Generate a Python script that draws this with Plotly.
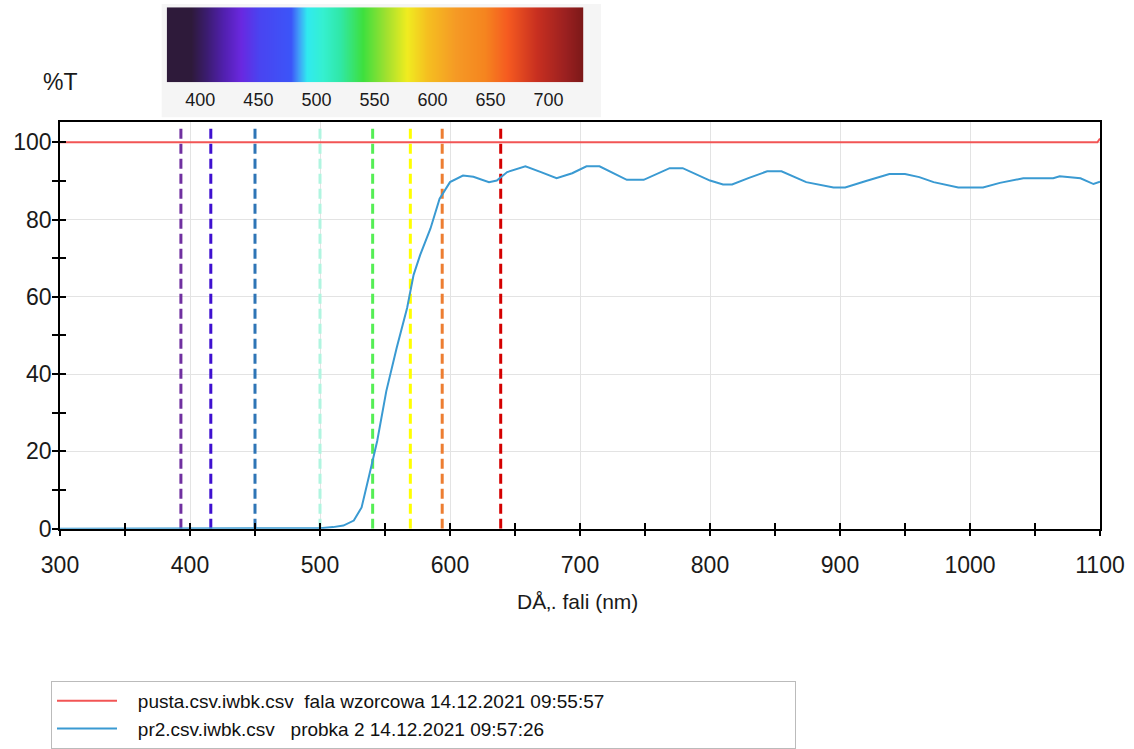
import plotly.graph_objects as go

# ---------------- data ----------------
wl_sample = [300, 400, 500, 510, 518, 526, 532, 538, 544, 551, 559, 567, 572, 577, 585, 592,
             600, 610, 618, 630, 636, 644, 658, 670, 682, 694, 705, 715, 726, 736, 749, 759,
             769, 779, 792, 800, 810, 817, 830, 844, 855, 865, 874, 895, 904, 920, 938, 950,
             961, 972, 991, 1010, 1023, 1041, 1064, 1069, 1085, 1095, 1100]
t_sample = [0, 0, 0.1, 0.4, 0.8, 2.1, 5.5, 14, 22.7, 35.6, 46.8, 57.1, 65.7, 70.8, 77.7, 85.4,
            89.7, 91.4, 91.1, 89.7, 90.1, 92.3, 93.8, 92.3, 90.7, 92.0, 93.8, 93.8, 92.0, 90.3, 90.3, 91.8,
            93.3, 93.3, 91.4, 90.1, 89.1, 89.1, 90.8, 92.5, 92.5, 91.0, 89.7, 88.3, 88.3, 90.0, 91.8, 91.8,
            91.0, 89.7, 88.3, 88.3, 89.5, 90.7, 90.7, 91.2, 90.7, 89.2, 89.8]

wl_ref = [300, 1098, 1100]
t_ref = [100, 100, 101]

marker_wl = [393, 416, 450, 500, 540.5, 569.5, 594, 639]
marker_colors = ["#7030A0", "#3F10D0", "#2E75B6", "#B0F5E0", "#55EE55", "#FFFF00", "#ED7D31", "#D40000"]

spectrum_nm = [371, 392, 405, 420, 435, 450, 478, 485, 492, 505, 520, 540, 560, 578, 595, 620, 645, 665, 690, 715, 730]
spectrum_colors = ["#2E1A3A", "#2E1A3A", "#3B1C6E", "#5220B0", "#6A28E0", "#4A44F0", "#3C55F8", "#40A0F8",
                   "#30EAF0", "#35F0D0", "#30E8A8", "#3EE03E", "#A0E030", "#F0EC20", "#F5C020", "#F59A25",
                   "#F5851F", "#F55A20", "#C83020", "#9A2020", "#7A1818"]
spectrum_ticks = [400, 450, 500, 550, 600, 650, 700]

x_ticks = [300, 400, 500, 600, 700, 800, 900, 1000, 1100]
y_ticks = [0, 20, 40, 60, 80, 100]

NB = "\u00a0"
legend_ref = NB * 3 + "pusta.csv.iwbk.csv" + NB * 2 + "fala wzorcowa 14.12.2021 09:55:57" + NB * 35
legend_sample = NB * 3 + "pr2.csv.iwbk.csv" + NB * 3 + "probka 2 14.12.2021 09:57:26"

# ---------------- figure ----------------
W, H = 1134, 749
PL, PR, PT, PB = 60, 1100, 122.5, 531.5  # plot area in pixels
FONT = "Liberation Sans, Arial, sans-serif"

fig = go.Figure()

# marker dashed lines
for w, c in zip(marker_wl, marker_colors):
    fig.add_trace(go.Scatter(x=[w, w], y=[0, 104.2], mode="lines",
                             line=dict(color=c, width=3, dash="10px,5px"),
                             showlegend=False, hoverinfo="skip"))

fig.add_trace(go.Scatter(x=wl_sample, y=t_sample, mode="lines", name=legend_sample,
                         line=dict(color="#3A9AD2", width=2), legendrank=2))
fig.add_trace(go.Scatter(x=wl_ref, y=t_ref, mode="lines", name=legend_ref,
                         line=dict(color="#F25555", width=2), legendrank=1))

# invisible trace for crossing-tick overlay axes
fig.add_trace(go.Scatter(x=[300], y=[0], xaxis="x3", yaxis="y3", mode="markers",
                         marker=dict(opacity=0), showlegend=False, hoverinfo="skip"))

# spectrum bar
lo, hi = spectrum_nm[0], spectrum_nm[-1]
cscale = [[(n - lo) / (hi - lo), c] for n, c in zip(spectrum_nm, spectrum_colors)]
fig.add_trace(go.Heatmap(x=spectrum_nm, y=[0, 1], z=[spectrum_nm, spectrum_nm],
                         colorscale=cscale, zmin=lo, zmax=hi, zsmooth="best",
                         showscale=False, xaxis="x2", yaxis="y2", hoverinfo="skip"))

xdom = [PL / W, PR / W]
ydom = [1 - PB / H, 1 - PT / H]

axis_common = dict(showline=True, linecolor="black", linewidth=1.5, mirror=True,
                   ticks="outside", ticklen=6, tickwidth=1.5, tickcolor="black",
                   tickfont=dict(family=FONT, size=23, color="#1a1a1a"),
                   gridcolor="#E3E3E3", gridwidth=1, zeroline=False, automargin=False)

fig.update_layout(
    width=W, height=H,
    margin=dict(l=0, r=0, t=0, b=0),
    paper_bgcolor="white", plot_bgcolor="white",
    xaxis=dict(domain=xdom, range=[300, 1100], tickvals=x_ticks, anchor="y",
               ticklabelstandoff=9,
               minor=dict(dtick=50, tick0=300, ticks="outside", ticklen=6, tickwidth=1.5,
                          tickcolor="black", showgrid=False),
               **axis_common),
    yaxis=dict(domain=ydom, range=[0, 105.3], tickvals=y_ticks, anchor="x",
               ticklabelstandoff=-4,
               minor=dict(dtick=10, tick0=0, ticks="outside", ticklen=6, tickwidth=1.5,
                          tickcolor="black", showgrid=False),
               **axis_common),
    xaxis3=dict(overlaying="x", range=[300, 1100], anchor="y3", tickvals=x_ticks,
                ticks="inside", ticklen=6, tickwidth=1.5, tickcolor="black",
                minor=dict(dtick=50, tick0=300, ticks="inside", ticklen=6, tickwidth=1.5,
                           tickcolor="black", showgrid=False),
                showticklabels=False, showgrid=False, showline=False, zeroline=False),
    yaxis3=dict(overlaying="y", range=[0, 105.3], anchor="x3", tickvals=y_ticks,
                ticks="inside", ticklen=6, tickwidth=1.5, tickcolor="black",
                minor=dict(dtick=10, tick0=0, ticks="inside", ticklen=6, tickwidth=1.5,
                           tickcolor="black", showgrid=False),
                showticklabels=False, showgrid=False, showline=False, zeroline=False),
    xaxis2=dict(domain=[166.7 / W, 583.3 / W], range=[lo, hi], anchor="y2",
                tickvals=spectrum_ticks, ticks="", showgrid=False, showline=False,
                zeroline=False, ticklabelstandoff=5,
                tickfont=dict(family=FONT, size=18, color="#1a1a1a")),
    yaxis2=dict(domain=[1 - 82.7 / H, 1 - 7.3 / H], range=[0, 1], anchor="x2",
                showticklabels=False, ticks="", showgrid=False, showline=False, zeroline=False),
    shapes=[dict(type="rect", xref="paper", yref="paper", layer="below",
                 x0=161.7 / W, x1=601 / W, y0=1 - 118 / H, y1=1 - 4 / H,
                 fillcolor="#F5F5F5", line=dict(width=0))],
    annotations=[
        dict(text="%T", xref="paper", yref="paper", x=60 / W, y=1 - 82 / H,
             showarrow=False, xanchor="center", yanchor="middle",
             font=dict(family=FONT, size=23, color="#1a1a1a")),
        dict(text="DÅ‚. fali (nm)", xref="paper", yref="paper", x=577 / W, y=1 - 605 / H,
             showarrow=False, xanchor="center", yanchor="middle",
             font=dict(family=FONT, size=21, color="#1a1a1a")),
    ],
    legend=dict(x=51 / W, y=1 - 685 / H, xanchor="left", yanchor="top",
                bgcolor="white", bordercolor="#BBBBBB", borderwidth=1,
                itemwidth=60, tracegroupgap=0,
                font=dict(family=FONT, size=19, color="#111111")),
    showlegend=True,
)

fig.write_html(
    "out.html",
    config={"displayModeBar": False},
    post_script=("document.body.style.margin='0';document.body.style.padding='0';"
                 "document.body.style.height='749px';document.body.style.overflow='hidden';"
                 "document.documentElement.style.overflow='hidden';"),
)
